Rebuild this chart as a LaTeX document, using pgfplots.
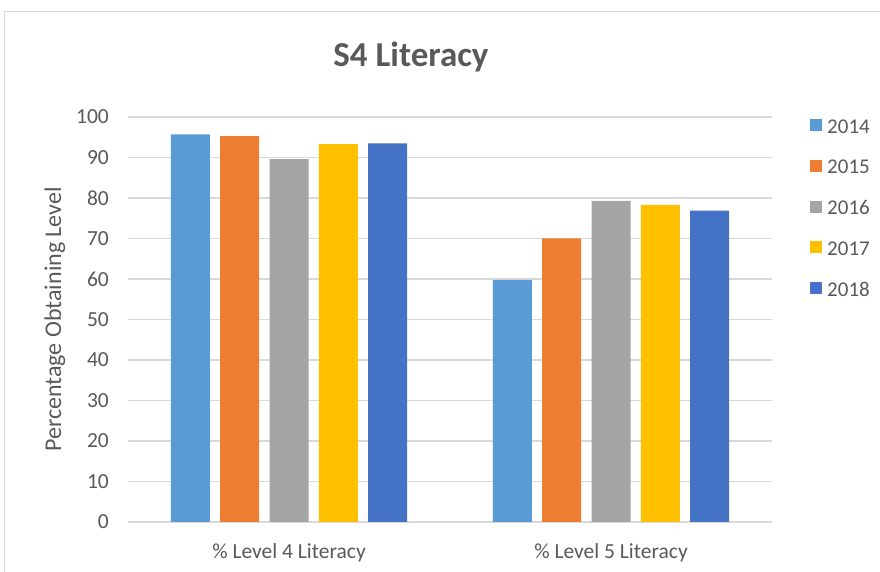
\documentclass[border=0pt]{standalone}
\usepackage{fontspec}
\setmainfont{Carlito}
\usepackage{pgfplots}
\pgfplotsset{compat=1.18}
\definecolor{c2014}{HTML}{5B9BD5}
\definecolor{c2015}{HTML}{ED7D31}
\definecolor{c2016}{HTML}{A5A5A5}
\definecolor{c2017}{HTML}{FFC000}
\definecolor{c2018}{HTML}{4472C4}
\definecolor{txt}{HTML}{595959}
\definecolor{gridc}{HTML}{D9D9D9}
\begin{document}
\begin{tikzpicture}
  \useasboundingbox (0pt,0pt) rectangle (880pt,572pt);
  % chart area frame (cut by the page edge)
  \draw[gridc, line width=1pt] (4pt,-20pt) -- (4pt,560pt) -- (900pt,560pt);

  \begin{axis}[
    at={(128pt,50pt)}, anchor=south west,
    scale only axis, width=644pt, height=405pt,
    ybar=10.3pt, bar width=39pt,
    xmin=-0.5, xmax=1.5, ymin=0, ymax=100,
    xtick={0,1},
    xticklabels={\% Level 4 Literacy, \% Level 5 Literacy},
    ytick={0,10,...,100},
    axis line style={draw=none},
    major tick length=0pt,
    ymajorgrids, grid style={gridc, line width=1.2pt},
    /pgf/number format/assume math mode=true,
    tick label style={font=\fontsize{21.5}{24}\selectfont, text=txt},
    yticklabel style={inner sep=0pt, xshift=-19pt},
    xticklabel style={anchor=center, inner sep=0pt, yshift=-31pt},
    ylabel={Percentage Obtaining Level},
    ylabel style={at={(axis description cs:-0.1134,0.5)}, anchor=center,
      font=\fontsize{24}{26}\selectfont, text=txt},
    title={\textbf{S4 Literacy}},
    title style={at={(axis description cs:0.4394,1.133)}, anchor=center,
      font=\fontsize{35}{38}\selectfont, text=txt},
    legend style={at={(axis description cs:1.059,0.995)}, anchor=north west,
      draw=none, fill=none, inner sep=0pt, row sep=26.7pt, column sep=5pt,
      font=\fontsize{21}{24}\selectfont, text=txt,
      nodes={inner sep=0pt, text height=14pt, text depth=0pt}},
    legend cell align=left,
    legend image code/.code={\fill[#1, draw=none] (0pt,-5pt) rectangle (12pt,7pt);},
  ]
    \addplot[fill=c2014, draw=none] coordinates {(0,95.7) (1,59.8)};
    \addplot[fill=c2015, draw=none] coordinates {(0,95.3) (1,70.0)};
    \addplot[fill=c2016, draw=none] coordinates {(0,89.6) (1,79.3)};
    \addplot[fill=c2017, draw=none] coordinates {(0,93.3) (1,78.3)};
    \addplot[fill=c2018, draw=none] coordinates {(0,93.5) (1,76.9)};
    \legend{2014,2015,2016,2017,2018}
  \end{axis}
\end{tikzpicture}
\end{document}
